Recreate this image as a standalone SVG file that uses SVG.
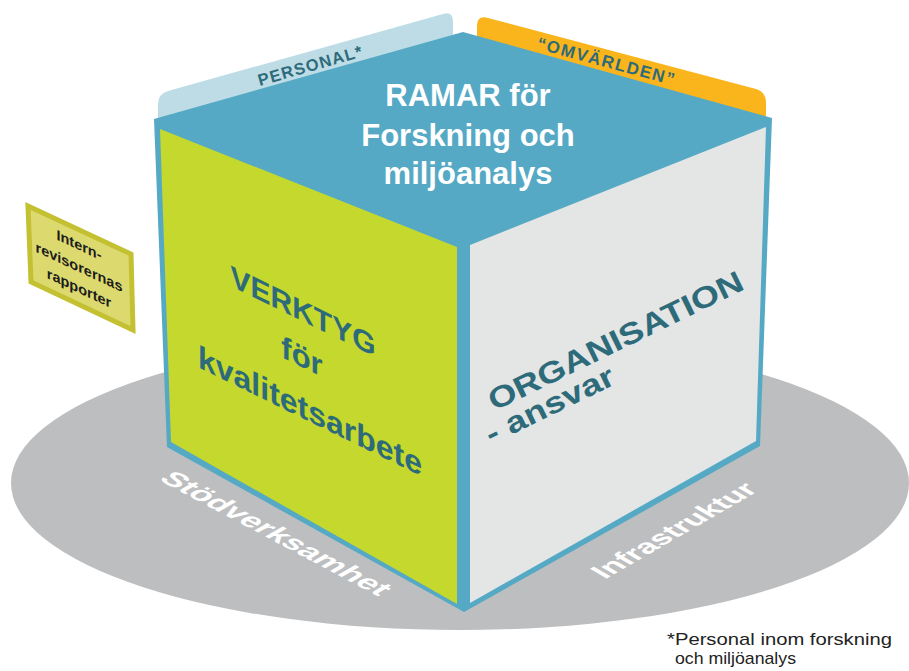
<svg xmlns="http://www.w3.org/2000/svg" width="909" height="671" viewBox="0 0 909 671">
<style>
.teal{fill:#2d6b7a;font-family:"Liberation Sans",Arial,sans-serif;font-weight:bold}
.white{fill:#ffffff;font-family:"Liberation Sans",Arial,sans-serif;font-weight:bold}
.blk{fill:#1c1c1c;font-family:"Liberation Sans",Arial,sans-serif;font-weight:bold}
.note{fill:#222222;font-family:"Liberation Sans",Arial,sans-serif}
</style>
<rect width="909" height="671" fill="#ffffff"/>
<g id="base">
<ellipse cx="460" cy="483" rx="449" ry="147" fill="#bdbec0"/>
<text class="white" font-size="28" text-anchor="middle" textLength="250" lengthAdjust="spacingAndGlyphs" transform="matrix(0.883,0.469,-0.866,0.5,268,538)">Stödverksamhet</text>
<text class="white" font-size="28" text-anchor="middle" textLength="178" lengthAdjust="spacingAndGlyphs" transform="matrix(0.866,-0.5,0.866,0.5,682,535)">Infrastruktur</text>
</g>
<g id="tab-personal">
<path d="M158,128 L158,104 Q158,94 168,91 L443,14 Q453,11 453,22 L453,50 Z" fill="#bddce6"/>
<text class="teal" font-size="16.5" text-anchor="middle" letter-spacing="1.2" transform="translate(312,71) rotate(-16)">PERSONAL*</text>
</g>
<g id="tab-omvarlden">
<path d="M477,50 L477,26 Q477,15 488,18 L756,89 Q766,92 766,103 L766,128 Z" fill="#fbb51c"/>
<text class="teal" font-size="17" text-anchor="middle" letter-spacing="1.5" transform="translate(605,67) rotate(15)">“OMVÄRLDEN”</text>
</g>
<g id="cube-top">
<polygon points="154,119 463,32 772,118 760,446 464,612 167,447" fill="#55a9c4"/>
<text class="white" font-size="31" text-anchor="middle" x="468" y="106">RAMAR för</text>
<text class="white" font-size="31" text-anchor="middle" x="468" y="146">Forskning och</text>
<text class="white" font-size="31" text-anchor="middle" x="468" y="184">miljöanalys</text>
</g>
<g id="face-verktyg">
<polygon points="160,129 457,247 457,604 171,442" fill="#c4d82e"/>
<g transform="translate(300,0) skewY(26)">
<text class="teal" font-size="30" text-anchor="middle" x="3" y="320">VERKTYG</text>
<text class="teal" font-size="31" text-anchor="middle" x="2" y="366">för</text>
<text class="teal" font-size="32" text-anchor="middle" x="10" y="417">kvalitetsarbete</text>
</g>
</g>
<g id="face-organisation">
<polygon points="470,245 766,127 756,441 470,603" fill="#e4e5e5"/>
<text class="teal" font-size="30" text-anchor="middle" textLength="280" lengthAdjust="spacingAndGlyphs" transform="translate(620,350) rotate(-26)">ORGANISATION</text>
<text class="teal" font-size="30" text-anchor="middle" textLength="140" lengthAdjust="spacingAndGlyphs" transform="translate(554,414) rotate(-26)">- ansvar</text>
</g>
<g id="box-internrevision">
<polygon points="28,206 131,254 133,330 31,282" fill="#dcda6e" stroke="#c3c132" stroke-width="5"/>
<g transform="translate(79,0) skewY(25)">
<text class="blk" font-size="14.5" text-anchor="middle" x="0" y="250">Intern-</text>
<text class="blk" font-size="14.5" text-anchor="middle" x="0" y="272">revisorernas</text>
<text class="blk" font-size="14.5" text-anchor="middle" x="0" y="293">rapporter</text>
</g>
</g>
<g id="footnote">
<text class="note" font-size="17" x="667" y="645" textLength="225" lengthAdjust="spacingAndGlyphs">*Personal inom forskning</text>
<text class="note" font-size="17" x="675" y="664" textLength="121" lengthAdjust="spacingAndGlyphs">och miljöanalys</text>
</g>
<g id="connectors"/>
</svg>
